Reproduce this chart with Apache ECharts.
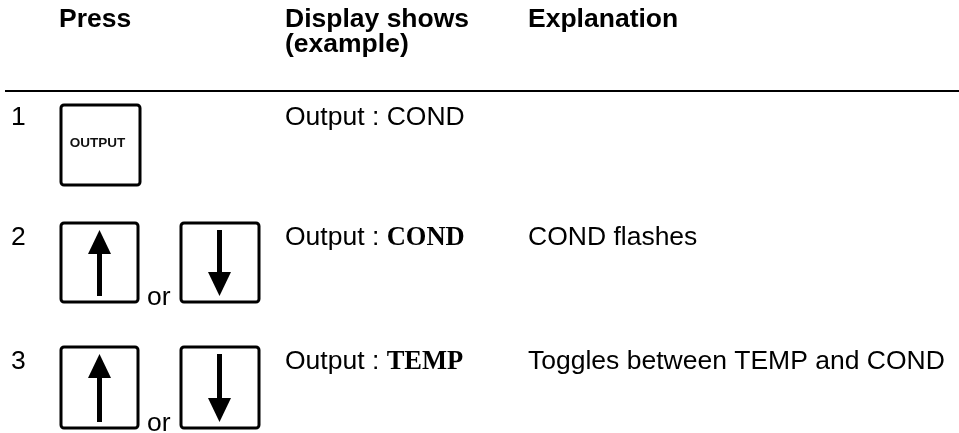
<!DOCTYPE html>
<html>
<head>
<meta charset="utf-8">
<script src="https://cdn.jsdelivr.net/npm/echarts@6/dist/echarts.min.js"></script>
<style>html,body{margin:0;padding:0;background:#fff}#c{width:959px;height:433px}</style>
</head>
<body>
<div id="c"></div>
<script>
// ---- data ----
const headers = ['Press', 'Display shows\n(example)', 'Explanation'];
const steps = ['1', '2', '3'];
const keys = [['OUTPUT'], ['up', 'down'], ['up', 'down']];
const displayPrefix = ['Output : ', 'Output : ', 'Output : '];
const displayValue = ['COND', 'COND', 'TEMP'];
const displayBold = [false, true, true];
const explanations = ['', 'COND flashes', 'Toggles between TEMP and COND'];

// ---- layout ----
const SANS = 'Liberation Sans, Arial, Helvetica, sans-serif';
const SERIF = 'Liberation Serif, Times New Roman, serif';
const FS = 26.5;
const colX = [59, 285, 528];
const numX = 11;
const rowTextY = [118, 238, 362];
const boxTop = [105, 223, 347];
const boxH = [80, 79, 81];
const g = [];

// headers
g.push({type:'text', x: colX[0], y: 20, style:{text: headers[0], font: 'bold ' + FS + 'px ' + SANS, fill:'#000', verticalAlign:'middle'}});
g.push({type:'text', x: colX[1], y: 20, style:{text: 'Display shows', font: 'bold ' + FS + 'px ' + SANS, fill:'#000', verticalAlign:'middle'}});
g.push({type:'text', x: colX[1], y: 45, style:{text: '(example)', font: 'bold ' + FS + 'px ' + SANS, fill:'#000', verticalAlign:'middle'}});
g.push({type:'text', x: colX[2], y: 20, style:{text: headers[2], font: 'bold ' + FS + 'px ' + SANS, fill:'#000', verticalAlign:'middle'}});
g.push({type:'rect', shape:{x:5, y:90, width:954, height:2}, style:{fill:'#000'}});

function keyBox(x, y, w, h) {
  g.push({type:'rect', shape:{x:x, y:y, width:w, height:h, r:3}, style:{fill:'#fff', stroke:'#000', lineWidth:3}});
}
function arrow(x, y, h, up) {
  const cx = x + 38.5;
  const tip = up ? y + 7 : y + h - 6;
  const base = up ? y + 31 : y + h - 30;
  const end = up ? y + h - 6 : y + 7;
  g.push({type:'polygon', shape:{points:[[cx, tip], [cx - 11.5, base], [cx + 11.5, base]]}, style:{fill:'#000'}});
  g.push({type:'rect', shape:{x: cx - 2.5, y: Math.min(base, end), width:5, height: Math.abs(end - base)}, style:{fill:'#000'}});
}

steps.forEach((s, i) => {
  g.push({type:'text', x: numX, y: rowTextY[i], style:{text: s, font: FS + 'px ' + SANS, fill:'#000', verticalAlign:'middle'}});
  const k = keys[i];
  if (k.length === 1) {
    keyBox(61, boxTop[i], 79, boxH[i]);
    g.push({type:'text', x: 97.5, y: boxTop[i] + 38, style:{text: k[0], font: 'bold 13.5px ' + SANS, fill:'#111', align:'center', verticalAlign:'middle'}});
  } else {
    keyBox(61, boxTop[i], 77, boxH[i]);
    arrow(61, boxTop[i], boxH[i], k[0] === 'up');
    g.push({type:'text', x: 147, y: boxTop[i] + boxH[i] - 4, style:{text: 'or', font: FS + 'px ' + SANS, fill:'#000', verticalAlign:'middle'}});
    keyBox(181, boxTop[i], 78, boxH[i]);
    arrow(181, boxTop[i], boxH[i], k[1] === 'up');
  }
  g.push({type:'text', x: colX[1], y: rowTextY[i], style:{
    text: displayPrefix[i] + (displayBold[i] ? '{b|' + displayValue[i] + '}' : displayValue[i]),
    font: FS + 'px ' + SANS, fill:'#000', verticalAlign:'middle',
    rich: {b: {fontFamily: SERIF, fontWeight:'bold', fontSize: FS, fill:'#000'}}
  }});
  if (explanations[i]) {
    g.push({type:'text', x: colX[2], y: rowTextY[i], style:{text: explanations[i], font: FS + 'px ' + SANS, fill:'#000', verticalAlign:'middle'}});
  }
});

const chart = echarts.init(document.getElementById('c'), null, {renderer:'canvas'});
chart.setOption({backgroundColor:'#fff', animation:false, graphic: g});
</script>
</body>
</html>
